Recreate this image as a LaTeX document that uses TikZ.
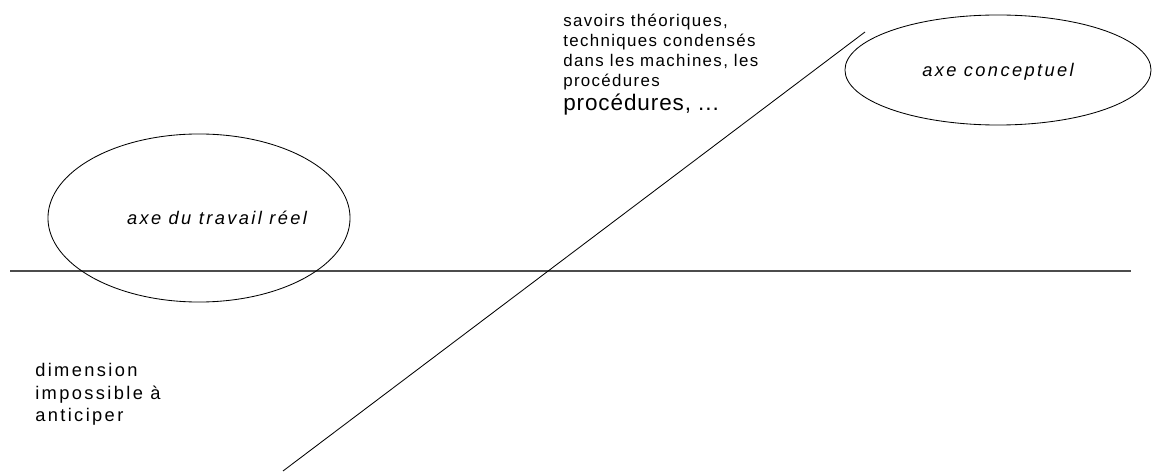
\documentclass[tikz,border=0pt]{standalone}
\usepackage{fontspec}
\setmainfont{Liberation Sans}
\usetikzlibrary{shapes.geometric}

\begin{document}
\begin{tikzpicture}[x=0.025cm,y=-0.025cm,
  axe/.style={draw,ellipse,line width=0.6pt,inner sep=0pt},
  nom/.style={font=\fontsize{13}{15}\selectfont\itshape\addfontfeature{LetterSpace=13},inner sep=0pt},
  note/.style={font=\fontsize{12}{14.2}\selectfont\addfontfeature{LetterSpace=8},align=left,anchor=north west,inner sep=0pt}]
\useasboundingbox (0,0) rectangle (1153,472);
% the two axes
\coordinate (h1) at (10,271);
\coordinate (h2) at (1131,271);
\coordinate (d1) at (283,471);
\coordinate (d2) at (865,32);
\draw[line width=0.9pt,black!70] (h1) -- (h2);
\draw[line width=0.6pt] (d1) -- (d2);
% the two ellipses
\node[axe,minimum width=7.55cm,minimum height=4.2cm] (reel) at (199,218) {};
\node[nom] (reeltxt) at (217,218) {axe du travail réel};
\node[axe,minimum width=7.65cm,minimum height=2.75cm] (concept) at (998,70) {};
\node[nom] (concepttxt) at (998,72) {axe conceptuel};
% texts
\node[note] (savoirs) at (563,14) {savoirs théoriques,\\techniques condensés\\dans les machines, les\\procédures\\[2pt]{\fontsize{16}{18}\selectfont\addfontfeature{LetterSpace=4}procédures, ...}};
\node[note,font=\fontsize{13}{16}\selectfont\addfontfeature{LetterSpace=13}] (dimension) at (35,363) {dimension\\impossible à\\anticiper};
\end{tikzpicture}
\end{document}
